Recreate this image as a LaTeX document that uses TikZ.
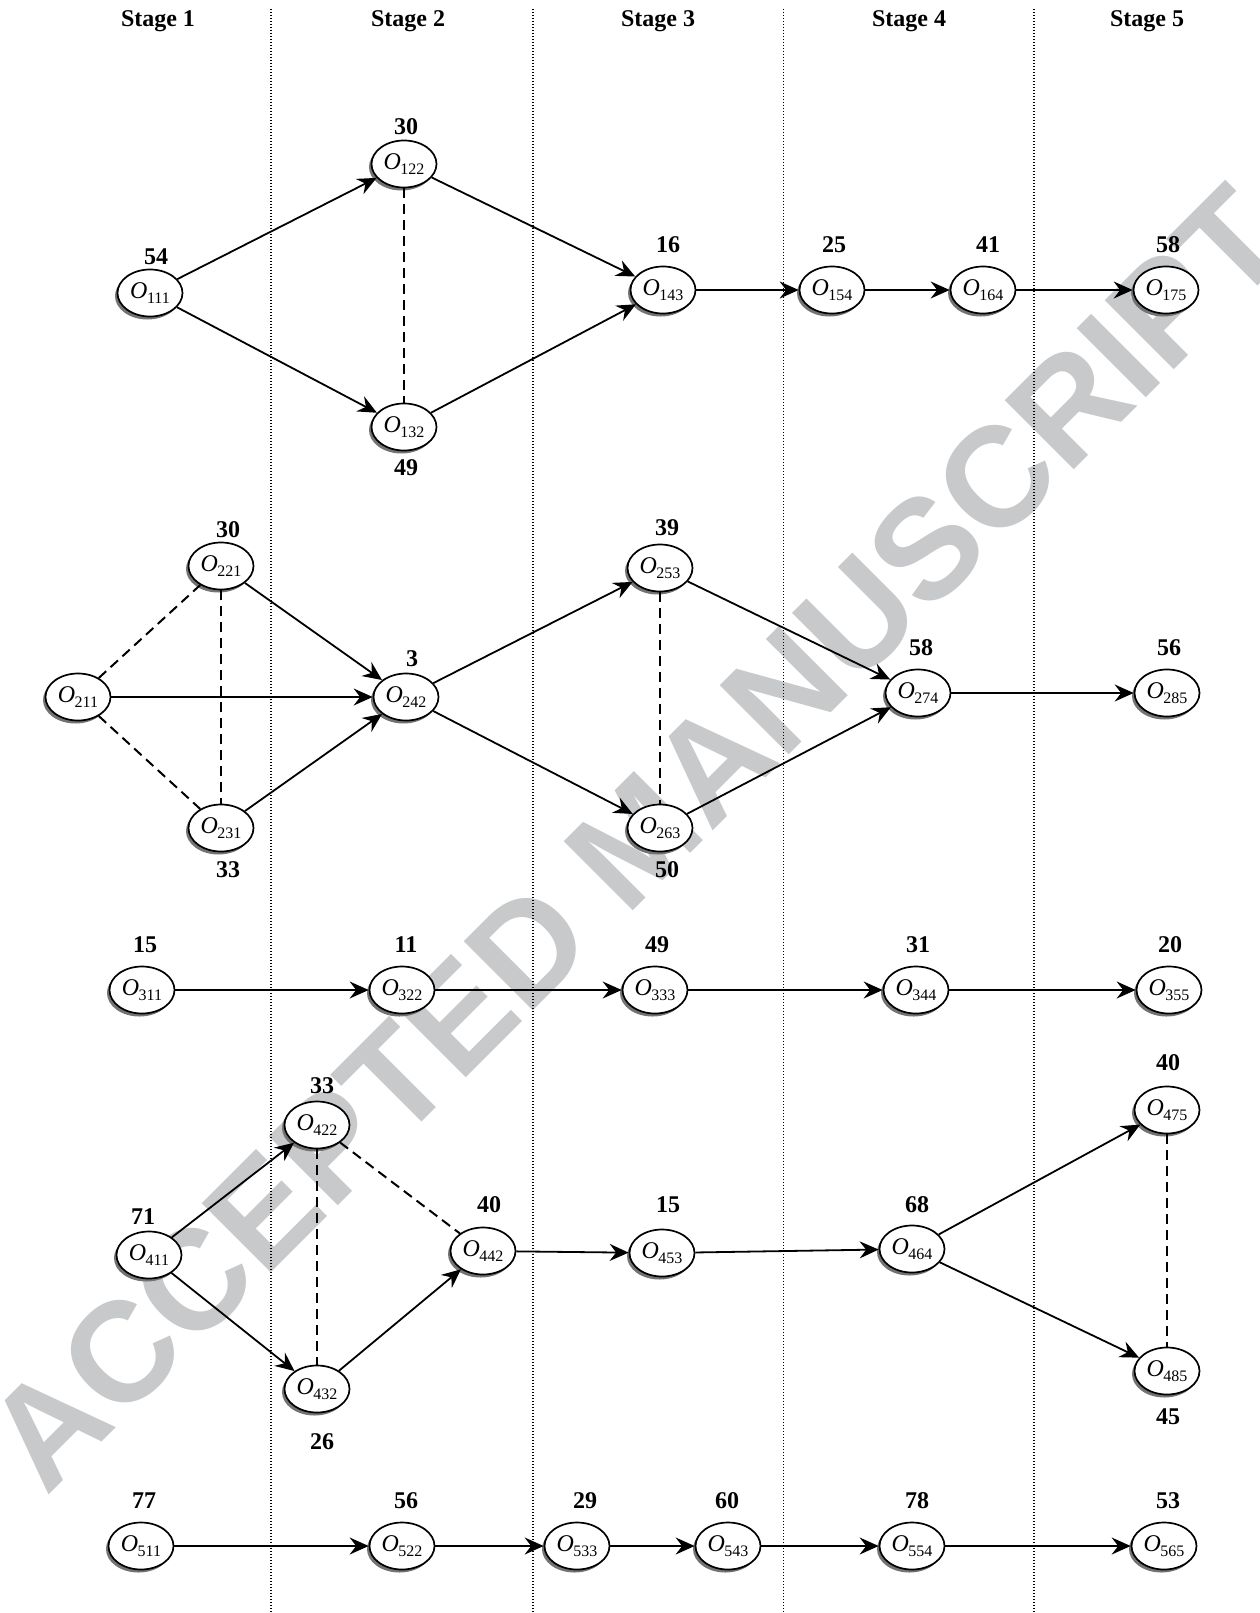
\documentclass[tikz,border=0pt]{standalone}
\usepackage{fontspec}
\setmainfont{Liberation Serif}
\newfontfamily\wmfont{Liberation Sans}
\usetikzlibrary{shapes.geometric,arrows.meta,shadows}
\definecolor{wmgray}{RGB}{200,201,203}
\newcommand\opl[1]{\textit{O}\kern-0.5pt\raisebox{-5pt}{\fontsize{16}{16}\selectfont #1}}
\tikzset{
  op/.style={ellipse, draw, line width=1.7pt, fill=white, minimum width=65pt, minimum height=47pt, inner sep=0pt,
    font=\fontsize{24}{24}\selectfont,
    drop shadow={shadow xshift=-2.5pt, shadow yshift=-3pt, fill=black!55, opacity=1}},
  lab/.style={font=\fontsize{24}{24}\selectfont\bfseries, inner sep=0pt},
  hdr/.style={font=\fontsize{24}{24}\selectfont\bfseries, inner sep=0pt, anchor=base},
  arr/.style={-{Stealth[length=19pt,width=17pt,inset=6.5pt]}, line width=1.8pt},
  dsh/.style={dash pattern=on 10pt off 6pt, line width=2pt},
  sep/.style={dash pattern=on 1.2pt off 1.8pt, line width=1.2pt}
}
\begin{document}
\begin{tikzpicture}[x=1pt,y=-1pt]
\fill[white] (0,0) rectangle (1259,1613);
\useasboundingbox (0,0) rectangle (1259,1613);
% watermark
\node[rotate=45, text=wmgray, inner sep=0pt, font=\wmfont\bfseries\fontsize{142}{142}\selectfont] (wm) at (637,838) {ACCEPTED MANUSCRIPT};
% stage separators
\coordinate (s1t) at (271,9);  \coordinate (s1b) at (271,1613);
\coordinate (s2t) at (533,9);  \coordinate (s2b) at (533,1613);
\coordinate (s3t) at (783.5,9);\coordinate (s3b) at (783.5,1613);
\coordinate (s4t) at (1034,9); \coordinate (s4b) at (1034,1613);
\draw[sep] (s1t) -- (s1b);
\draw[sep] (s2t) -- (s2b);
\draw[sep] (s3t) -- (s3b);
\draw[sep] (s4t) -- (s4b);
% headers
\node[hdr] (h1) at (158,27) {Stage 1};
\node[hdr] (h2) at (408,27) {Stage 2};
\node[hdr] (h3) at (658,27) {Stage 3};
\node[hdr] (h4) at (909,27) {Stage 4};
\node[hdr] (h5) at (1147,27) {Stage 5};
% row 1
\node[op] (n111) at (150,293) {\opl{111}};
\node[op] (n122) at (404,164) {\opl{122}};
\node[op] (n132) at (404,427) {\opl{132}};
\node[op] (n143) at (663,290) {\opl{143}};
\node[op] (n154) at (832,290) {\opl{154}};
\node[op] (n164) at (983,290) {\opl{164}};
\node[op] (n175) at (1166,290) {\opl{175}};
\node[lab] (l111) at (156,257) {54};
\node[lab] (l122) at (406,127) {30};
\node[lab] (l132) at (406,468) {49};
\node[lab] (l143) at (668,245) {16};
\node[lab] (l154) at (834,245) {25};
\node[lab] (l164) at (988,245) {41};
\node[lab] (l175) at (1168,245) {58};
\draw[arr] (n111) -- (n122);
\draw[arr] (n111) -- (n132);
\draw[arr] (n122) -- (n143);
\draw[arr] (n132) -- (n143);
\draw[dsh] (n122) -- (n132);
\draw[arr] (n143) -- (n154);
\draw[arr] (n154) -- (n164);
\draw[arr] (n164) -- (n175);
% row 2
\node[op] (n211) at (78,697) {\opl{211}};
\node[op] (n221) at (221,566) {\opl{221}};
\node[op] (n231) at (221,828) {\opl{231}};
\node[op] (n242) at (406,697) {\opl{242}};
\node[op] (n253) at (660,568) {\opl{253}};
\node[op] (n263) at (660,828) {\opl{263}};
\node[op] (n274) at (918,693) {\opl{274}};
\node[op] (n285) at (1167,693) {\opl{285}};
\node[lab] (l221) at (228,530) {30};
\node[lab] (l231) at (228,870) {33};
\node[lab] (l242) at (412,659) {3};
\node[lab] (l253) at (667,528) {39};
\node[lab] (l263) at (667,870) {50};
\node[lab] (l274) at (921,648) {58};
\node[lab] (l285) at (1169,648) {56};
\draw[dsh] (n211) -- (n221);
\draw[dsh] (n211) -- (n231);
\draw[dsh] (n221) -- (n231);
\draw[arr] (n211) -- (n242);
\draw[arr] (n221) -- (n242);
\draw[arr] (n231) -- (n242);
\draw[arr] (n242) -- (n253);
\draw[arr] (n242) -- (n263);
\draw[dsh] (n253) -- (n263);
\draw[arr] (n253) -- (n274);
\draw[arr] (n263) -- (n274);
\draw[arr] (n274) -- (n285);
% row 3
\node[op] (n311) at (142,990) {\opl{311}};
\node[op] (n322) at (402,990) {\opl{322}};
\node[op] (n333) at (655,990) {\opl{333}};
\node[op] (n344) at (916,990) {\opl{344}};
\node[op] (n355) at (1169,990) {\opl{355}};
\node[lab] (l311) at (145,945) {15};
\node[lab] (l322) at (406,945) {11};
\node[lab] (l333) at (657,945) {49};
\node[lab] (l344) at (918,945) {31};
\node[lab] (l355) at (1170,945) {20};
\draw[arr] (n311) -- (n322);
\draw[arr] (n322) -- (n333);
\draw[arr] (n333) -- (n344);
\draw[arr] (n344) -- (n355);
% row 4
\node[op] (n411) at (149,1255) {\opl{411}};
\node[op] (n422) at (317,1125) {\opl{422}};
\node[op] (n432) at (317,1389) {\opl{432}};
\node[op] (n442) at (483,1251) {\opl{442}};
\node[op] (n453) at (662,1253) {\opl{453}};
\node[op] (n464) at (912,1249) {\opl{464}};
\node[op] (n475) at (1167,1110) {\opl{475}};
\node[op] (n485) at (1167,1371) {\opl{485}};
\node[lab] (l411) at (143,1217) {71};
\node[lab] (l422) at (322,1086) {33};
\node[lab] (l432) at (322,1442) {26};
\node[lab] (l442) at (489,1205) {40};
\node[lab] (l453) at (668,1205) {15};
\node[lab] (l464) at (917,1205) {68};
\node[lab] (l475) at (1168,1063) {40};
\node[lab] (l485) at (1168,1417) {45};
\draw[arr] (n411) -- (n422);
\draw[arr] (n411) -- (n432);
\draw[dsh] (n422) -- (n432);
\draw[dsh] (n422) -- (n442);
\draw[arr] (n432) -- (n442);
\draw[arr] (n442) -- (n453);
\draw[arr] (n453) -- (n464);
\draw[arr] (n464) -- (n475);
\draw[arr] (n464) -- (n485);
\draw[dsh] (n475) -- (n485);
% row 5
\node[op] (n511) at (141,1546) {\opl{511}};
\node[op] (n522) at (402,1546) {\opl{522}};
\node[op] (n533) at (577,1546) {\opl{533}};
\node[op] (n543) at (728,1546) {\opl{543}};
\node[op] (n554) at (912,1546) {\opl{554}};
\node[op] (n565) at (1164,1546) {\opl{565}};
\node[lab] (l511) at (144,1501) {77};
\node[lab] (l522) at (406,1501) {56};
\node[lab] (l533) at (585,1501) {29};
\node[lab] (l543) at (727,1501) {60};
\node[lab] (l554) at (917,1501) {78};
\node[lab] (l565) at (1168,1501) {53};
\draw[arr] (n511) -- (n522);
\draw[arr] (n522) -- (n533);
\draw[arr] (n533) -- (n543);
\draw[arr] (n543) -- (n554);
\draw[arr] (n554) -- (n565);
\end{tikzpicture}
\end{document}
